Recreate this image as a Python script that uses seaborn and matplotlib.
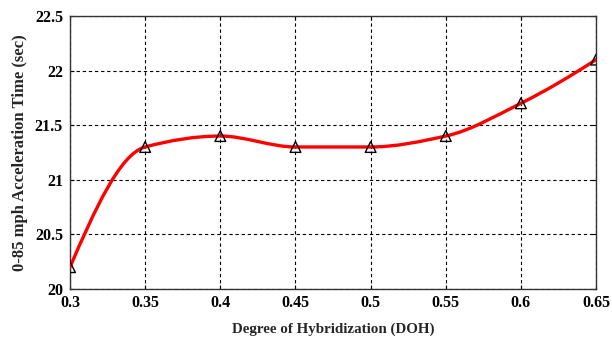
import numpy as np
import pandas as pd
import matplotlib
matplotlib.use("Agg")
import matplotlib.pyplot as plt
from matplotlib.path import Path
from matplotlib.patches import PathPatch
import seaborn as sns

# Acceleration time versus degree of hybridization
doh = [0.30, 0.35, 0.40, 0.45, 0.50, 0.55, 0.60, 0.65]
accel_time = [20.2, 21.3, 21.4, 21.3, 21.3, 21.4, 21.7, 22.1]
x_ticks = [0.3, 0.35, 0.4, 0.45, 0.5, 0.55, 0.6, 0.65]
x_tick_labels = ["0.3", "0.35", "0.4", "0.45", "0.5", "0.55", "0.6", "0.65"]
y_ticks = [20, 20.5, 21, 21.5, 22, 22.5]
y_tick_labels = ["20", "20.5", "21", "21.5", "22", "22.5"]

sns.set_theme(style="white")
plt.rcParams["font.family"] = ["Liberation Serif", "DejaVu Serif"]
plt.rcParams["font.weight"] = "bold"

df = pd.DataFrame({"doh": doh, "t": accel_time})

fig = plt.figure(figsize=(6.12, 3.38), dpi=100)
ax = fig.add_axes([0.1144, 0.145, 0.8596, 0.808])

# Shape-preserving (PCHIP-style) smooth curve drawn as cubic Bezier segments
x = np.asarray(doh, dtype=float)
y = np.asarray(accel_time, dtype=float)
n = len(x)
h = np.diff(x)
slopes = np.diff(y) / h
m = np.zeros(n)
for i in range(1, n - 1):
    a, b = slopes[i - 1], slopes[i]
    m[i] = 0.0 if a * b <= 0 else 2 * a * b / (a + b)
m[0] = ((2 * h[0] + h[1]) * slopes[0] - h[0] * slopes[1]) / (h[0] + h[1])
m[-1] = ((2 * h[-1] + h[-2]) * slopes[-1] - h[-1] * slopes[-2]) / (h[-1] + h[-2])
verts = [(x[0], y[0])]
codes = [Path.MOVETO]
for i in range(n - 1):
    verts += [(x[i] + h[i] / 3, y[i] + m[i] * h[i] / 3),
              (x[i + 1] - h[i] / 3, y[i + 1] - m[i + 1] * h[i] / 3),
              (x[i + 1], y[i + 1])]
    codes += [Path.CURVE4] * 3
ax.add_patch(PathPatch(Path(verts, codes), facecolor="none",
                       edgecolor="#ff0000", lw=2.4, zorder=3,
                       capstyle="round", joinstyle="round"))

sns.scatterplot(data=df, x="doh", y="t", marker="^", s=60,
                facecolor="none", edgecolor="black", linewidth=1.0,
                zorder=4, ax=ax, legend=False)

ax.set_xlim(0.3, 0.65)
ax.set_ylim(20, 22.5)
ax.set_xticks(x_ticks)
ax.set_xticklabels(x_tick_labels, fontsize=11.5, fontweight="bold")
ax.set_yticks(y_ticks)
ax.set_yticklabels(y_tick_labels, fontsize=11.5, fontweight="bold")
ax.tick_params(direction="in", length=3, width=0.8, colors="black",
               top=True, right=True, bottom=True, left=True)
ax.tick_params(axis="x", pad=4.5)
ax.tick_params(axis="y", pad=5)

ax.grid(True, color="black", linestyle=(0, (3, 2.5)), linewidth=0.8)
ax.set_axisbelow(True)
for s in ax.spines.values():
    s.set_color("#333333")
    s.set_linewidth(1.0)

ax.set_xlabel("Degree of Hybridization (DOH)", fontsize=10.8,
              fontweight="bold", labelpad=8)
ax.set_ylabel("0-85 mph Acceleration Time (sec)", fontsize=12,
              fontweight="bold", labelpad=5)

fig.savefig("out.png", dpi=100, facecolor="white")
